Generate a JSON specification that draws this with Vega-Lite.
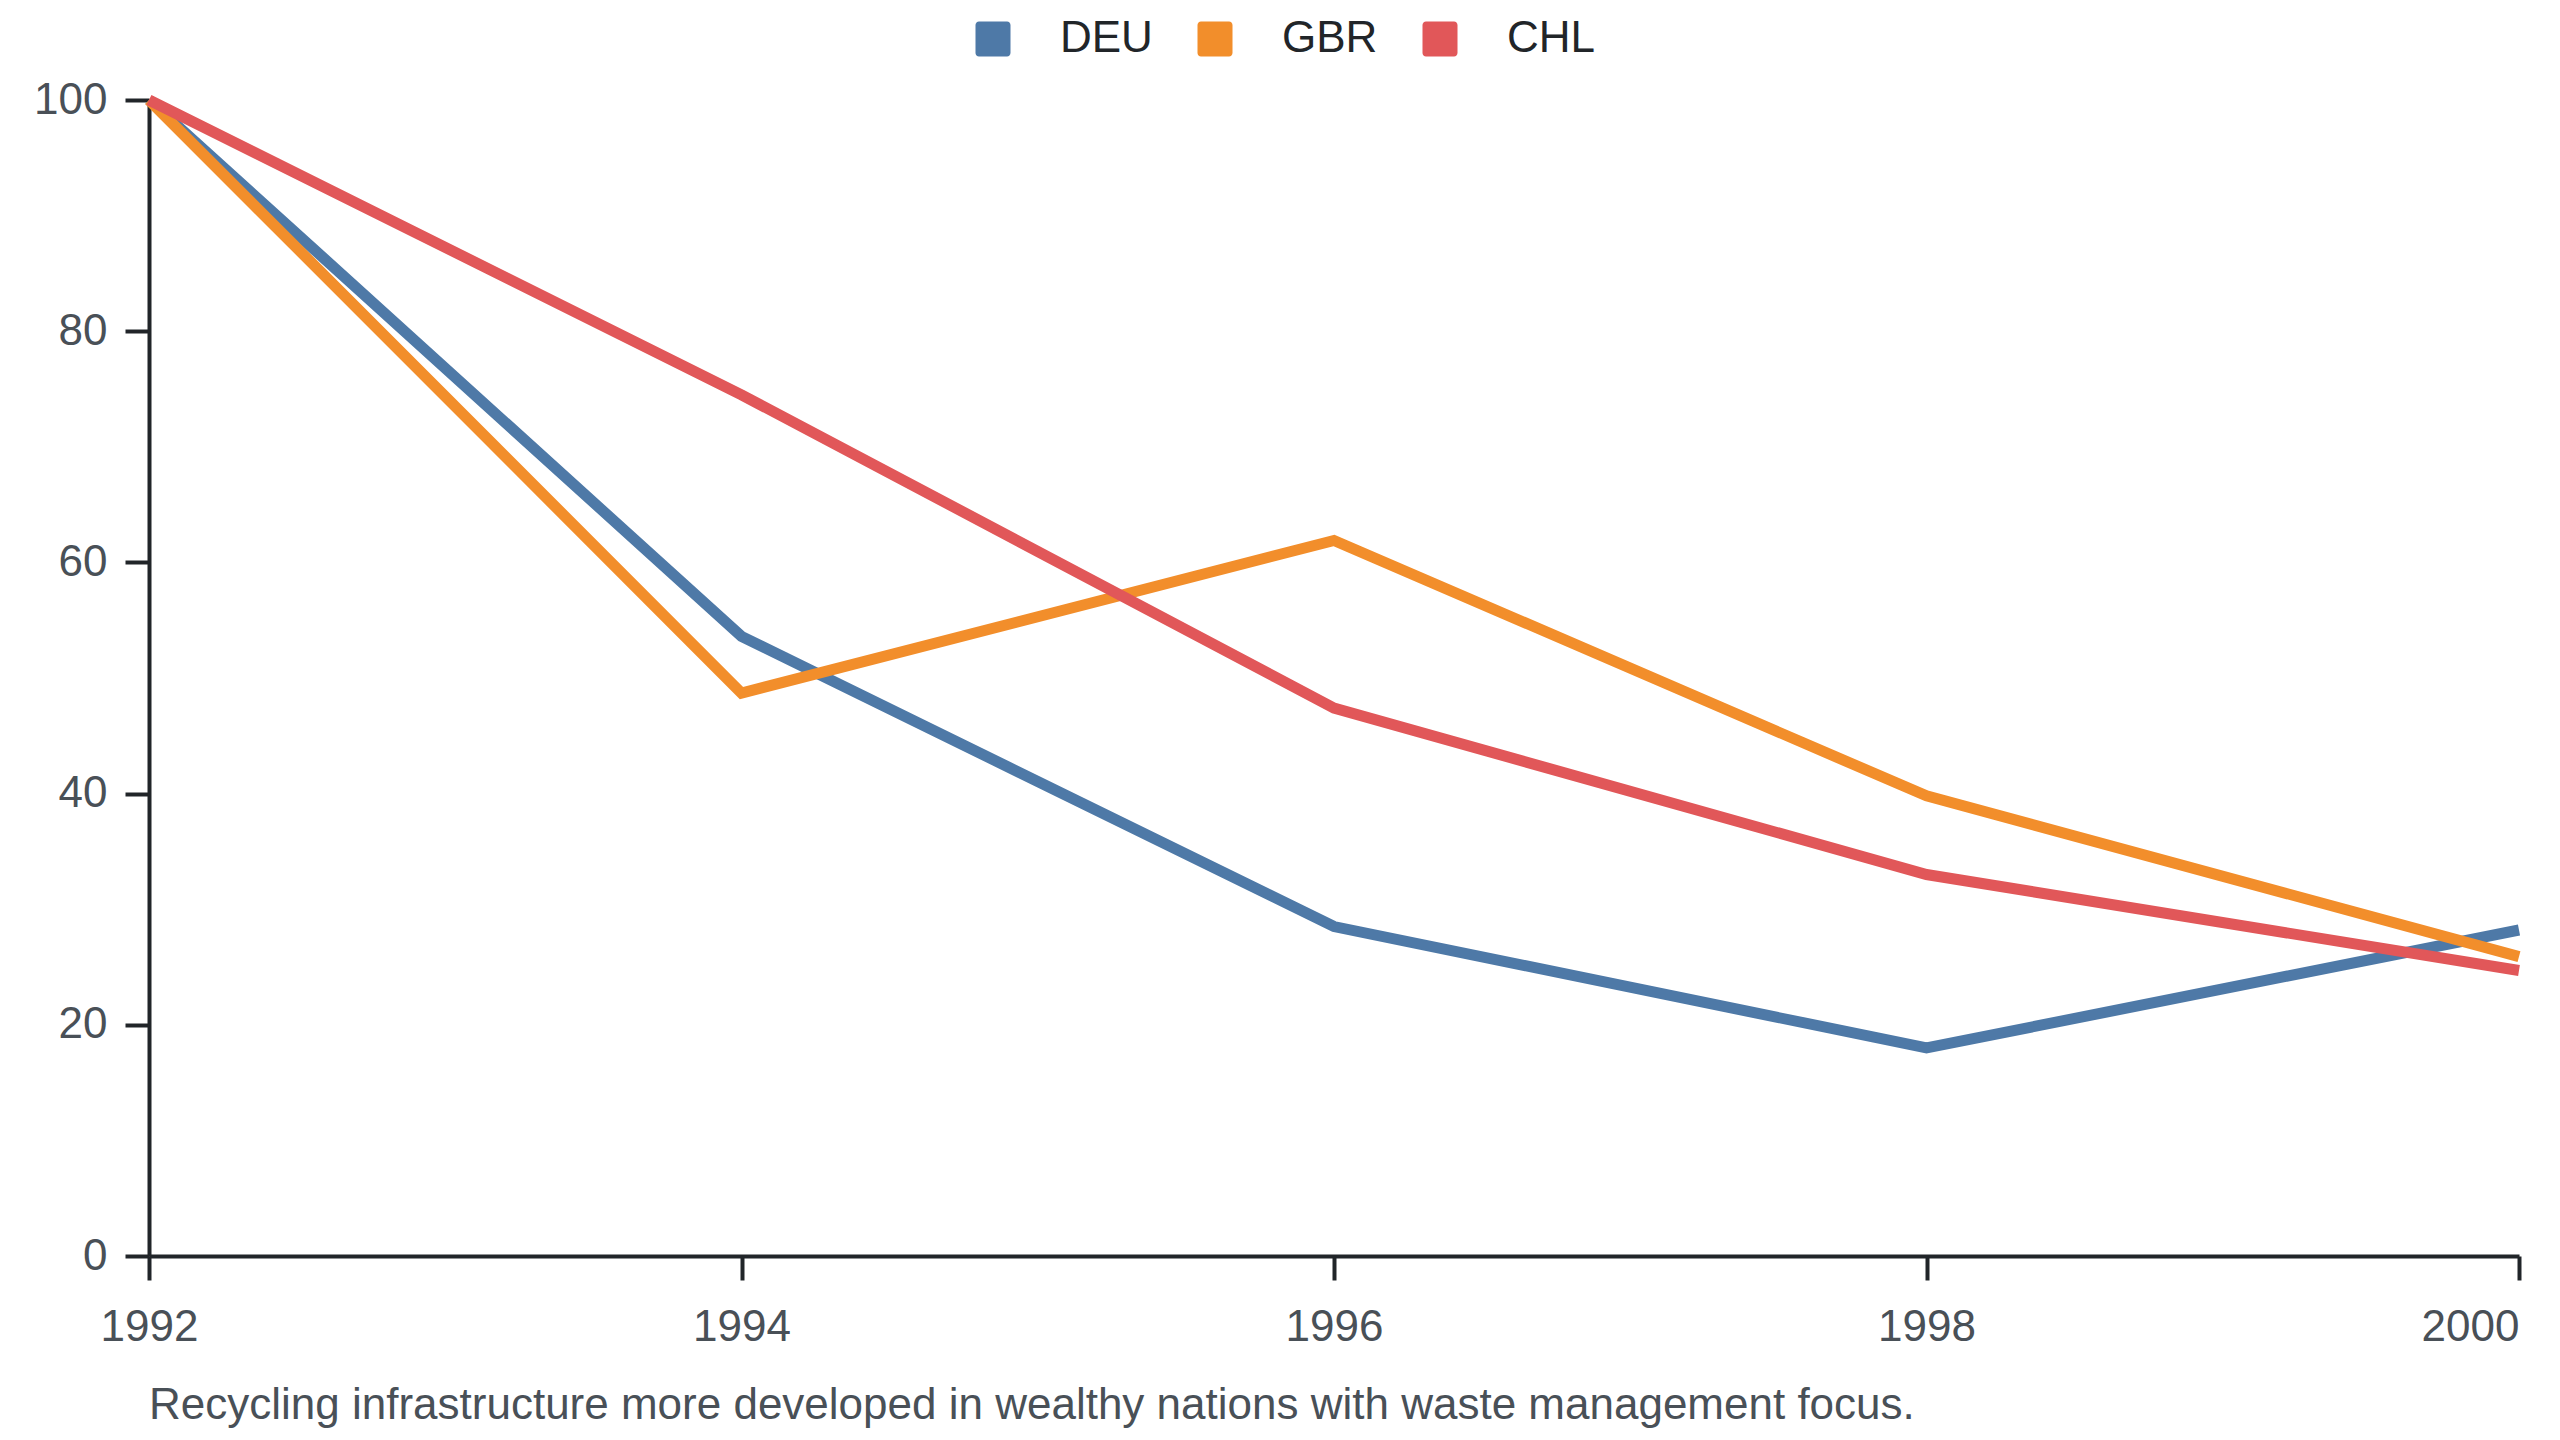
{
  "$schema": "https://vega.github.io/schema/vega-lite/v6.json",
  "width": 2370,
  "height": 1156,
  "autosize": "none",
  "padding": {"left": 149, "top": 100, "right": 41, "bottom": 184},
  "background": "white",
  "data": {
    "values": [
      {"country": "DEU", "year": 1992, "value": 100},
      {"country": "DEU", "year": 1994, "value": 53.6},
      {"country": "DEU", "year": 1996, "value": 28.5},
      {"country": "DEU", "year": 1998, "value": 18.0},
      {"country": "DEU", "year": 2000, "value": 28.2},
      {"country": "GBR", "year": 1992, "value": 100},
      {"country": "GBR", "year": 1994, "value": 48.7},
      {"country": "GBR", "year": 1996, "value": 61.9},
      {"country": "GBR", "year": 1998, "value": 39.8},
      {"country": "GBR", "year": 2000, "value": 25.9},
      {"country": "CHL", "year": 1992, "value": 100},
      {"country": "CHL", "year": 1994, "value": 74.5},
      {"country": "CHL", "year": 1996, "value": 47.4},
      {"country": "CHL", "year": 1998, "value": 33.0},
      {"country": "CHL", "year": 2000, "value": 24.7}
    ]
  },
  "title": {
    "text": "Recycling infrastructure more developed in wealthy nations with waste management focus.",
    "orient": "bottom",
    "anchor": "start",
    "frame": "group",
    "offset": 35,
    "fontSize": 44,
    "fontWeight": "normal",
    "color": "#495057"
  },
  "mark": {"type": "line", "strokeWidth": 11, "strokeCap": "butt"},
  "encoding": {
    "x": {
      "field": "year",
      "type": "quantitative",
      "scale": {"domain": [1992, 2000], "nice": false, "zero": false},
      "axis": {
        "title": null,
        "values": [1992, 1994, 1996, 1998, 2000],
        "format": "d",
        "grid": false,
        "labelFlush": false,
        "labelOverlap": false,
        "labelBound": false,
        "labelAlign": {"expr": "datum.value == 2000 ? 'right' : 'center'"},
        "labelPadding": 25
      }
    },
    "y": {
      "field": "value",
      "type": "quantitative",
      "scale": {"domain": [0, 100], "nice": false},
      "axis": {
        "title": null,
        "values": [0, 20, 40, 60, 80, 100],
        "grid": false,
        "labelPadding": 18
      }
    },
    "color": {
      "field": "country",
      "type": "nominal",
      "scale": {"domain": ["DEU", "GBR", "CHL"], "range": ["#4e79a7", "#f28e2b", "#e15759"]},
      "legend": {
        "title": null,
        "orient": "none",
        "direction": "horizontal",
        "legendX": 822,
        "legendY": -83,
        "padding": 0,
        "symbolType": "M-0.8,-1H0.8A0.2,0.2 0 0 1 1,-0.8V0.8A0.2,0.2 0 0 1 0.8,1H-0.8A0.2,0.2 0 0 1 -1,0.8V-0.8A0.2,0.2 0 0 1 -0.8,-1Z",
        "symbolSize": 1225,
        "labelFontSize": 44,
        "labelColor": "#212529",
        "labelOffset": 45,
        "columnPadding": 40,
        "encode": {
          "symbols": {
            "update": {
              "fill": {"scale": "color", "field": "value"},
              "stroke": {"value": "transparent"},
              "strokeWidth": {"value": 0}
            }
          }
        }
      }
    }
  },
  "config": {
    "font": "Liberation Sans",
    "view": {"stroke": null},
    "axis": {
      "domainColor": "#212529",
      "domainWidth": 4,
      "tickColor": "#212529",
      "tickWidth": 4,
      "tickSize": 24,
      "labelFontSize": 44,
      "labelColor": "#495057",
      "labelFont": "Liberation Sans"
    }
  }
}
